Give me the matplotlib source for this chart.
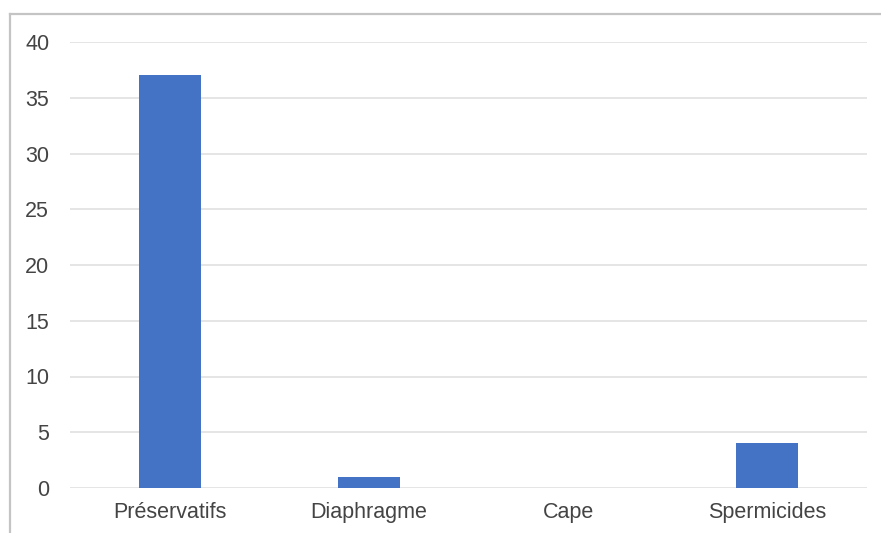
import matplotlib
matplotlib.use("Agg")
import matplotlib.pyplot as plt
from matplotlib.lines import Line2D
import numpy as np

methods = ['Préservatifs', 'Diaphragme', 'Cape', 'Spermicides']
counts = [37, 1, 0, 4]
y_ticks = [0, 5, 10, 15, 20, 25, 30, 35, 40]

plt.rcParams['font.family'] = ['Liberation Sans', 'DejaVu Sans']

fig = plt.figure(figsize=(8.81, 5.33), dpi=100)
ax = fig.add_axes([70 / 881, 1 - 488 / 533, 797 / 881, 446 / 533])

x = np.arange(len(methods))
ax.bar(x, counts, 0.31, color='#4472c4', zorder=3)

ax.set_xlim(-0.5, len(methods) - 0.5)
ax.set_ylim(0, 40)
ax.set_yticks(y_ticks)
ax.set_xticks(x, methods)
ax.grid(axis='y', color='#e0e0e0', linewidth=1.2, zorder=0)
for s in ax.spines.values():
    s.set_visible(False)
ax.tick_params(axis='both', length=0, labelsize=15.5, labelcolor='#444444')
ax.tick_params(axis='y', pad=15)
ax.tick_params(axis='x', pad=10)

# frame around the chart area (top and left edges)
fig.add_artist(Line2D([10 / 881, 1], [1 - 14 / 533] * 2, color='#c4c4c4', lw=1.6))
fig.add_artist(Line2D([10 / 881] * 2, [0, 1 - 14 / 533], color='#c4c4c4', lw=1.6))

fig.savefig('out.png', dpi=100, facecolor='white')
